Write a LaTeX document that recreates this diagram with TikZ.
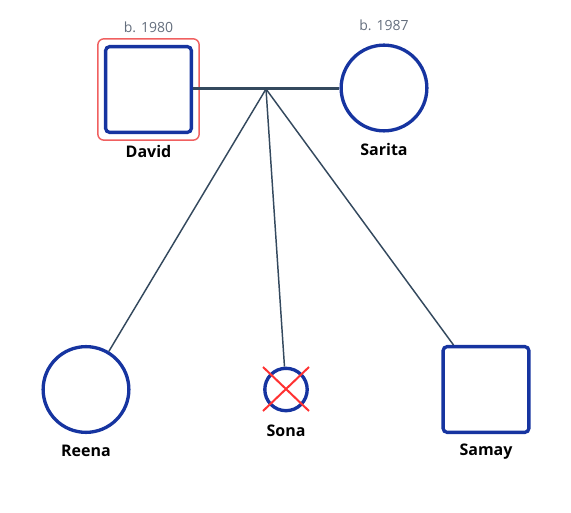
\documentclass[tikz,border=0pt]{standalone}
\usepackage{fontspec}
\setmainfont{Open Sans}
\begin{document}
\begin{tikzpicture}[x=0.75pt,y=-0.75pt,
  pblue/.style={draw=indblue,line width=2.5pt,fill=white,inner sep=0pt},
  male/.style={pblue,rectangle,rounded corners=3pt,minimum size=64.3pt},
  female/.style={pblue,circle,minimum size=64.3pt},
  smallf/.style={pblue,circle,minimum size=31.8pt},
  namelbl/.style={font=\bfseries\fontsize{12}{14}\selectfont,text=black},
  yearlbl/.style={font=\fontsize{10.5}{12}\selectfont,text=yeargray},
  partner/.style={draw=linecol,line width=2.25pt},
  child/.style={draw=linecol,line width=1.1pt},
  hilite/.style={draw=hired,line width=1.1pt,rounded corners=4.5pt,minimum size=76pt,inner sep=0pt}
]
\definecolor{indblue}{RGB}{22,52,160}
\definecolor{linecol}{RGB}{52,73,94}
\definecolor{yeargray}{RGB}{100,110,125}
\definecolor{hired}{RGB}{240,96,96}
\definecolor{crossred}{RGB}{255,50,50}
\useasboundingbox (0,0) rectangle (571,513);

\node[hilite] (hl) at (148.5,89.5) {};
\node[male] (david) at (148.5,89.5) {};
\node[female] (sarita) at (384,88) {};
\node[female] (reena) at (86,389.5) {};
\node[smallf] (sona) at (286,389.5) {};
\node[male] (samay) at (486,389.5) {};

\node[yearlbl] (y1) at (148.5,27) {b. 1980};
\node[yearlbl] (y2) at (384,25) {b. 1987};
\node[namelbl] (n1) at (148.5,152) {David};
\node[namelbl] (n2) at (384,150) {Sarita};
\node[namelbl] (n3) at (86,451) {Reena};
\node[namelbl] (n4) at (286,431) {Sona};
\node[namelbl] (n5) at (486,452) {Samay};

\coordinate (desc) at (266,89);
\draw[partner] (david.east |- desc) -- (sarita.west |- desc);
\draw[child] (desc) -- (reena);
\draw[child] (desc) -- (sona);
\draw[child] (desc) -- (samay);

\coordinate (c1) at (263,367);
\coordinate (c2) at (309,411);
\coordinate (c3) at (309,367);
\coordinate (c4) at (263,411);
\draw[crossred,line width=1.5pt] (c1) -- (c2) (c3) -- (c4);
\end{tikzpicture}
\end{document}
